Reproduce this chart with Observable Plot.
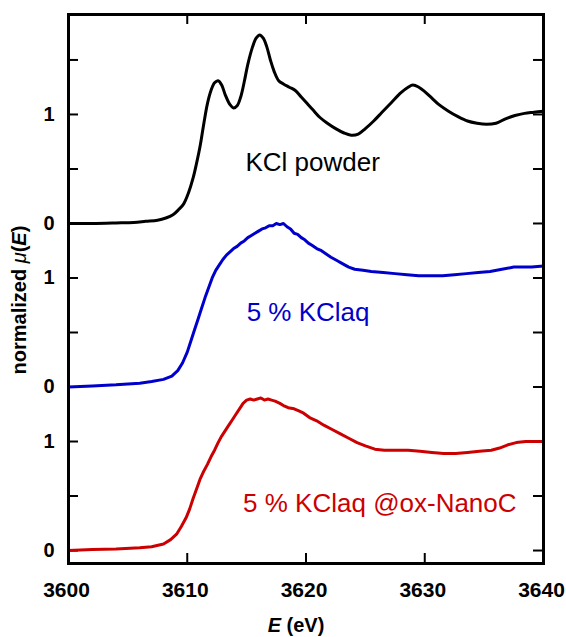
<!DOCTYPE html>
<html>
<head>
<meta charset="utf-8">
<script src="https://cdn.jsdelivr.net/npm/d3@7"></script>
<script src="https://cdn.jsdelivr.net/npm/@observablehq/plot@0.6"></script>
<style>
  html, body { margin: 0; padding: 0; background: #fff; }
</style>
</head>
<body>
<div id="chart"></div>
<script>
// ---------- data ----------
const seriesNames = ["KCl powder", "5 % KClaq", "5 % KClaq @ox-NanoC"];
const seriesColors = ["#000000", "#0000cc", "#cc0000"];
const seriesOffsets = [3.0, 1.5, 0.0];

const xTicks = [3600, 3610, 3620, 3630, 3640];
const yTickSteps = [0, 0.5, 1];
const yTickLabels = ["0", "1"];

const kclPowderE = [3600, 3602, 3604, 3605.5, 3606.5, 3607.5, 3608.2, 3608.8, 3609.3, 3609.7, 3610.1, 3610.5, 3610.8, 3611.1, 3611.4, 3611.7, 3612.0, 3612.3, 3612.6, 3612.9, 3613.2, 3613.6, 3613.9, 3614.2, 3614.5, 3614.8, 3615.1, 3615.5, 3615.8, 3616.1, 3616.4, 3616.7, 3617.0, 3617.3, 3617.7, 3618.1, 3618.6, 3619.1, 3619.6, 3620.1, 3620.6, 3621.2, 3621.8, 3622.5, 3623.2, 3623.8, 3624.4, 3625.0, 3625.7, 3626.4, 3627.2, 3628.0, 3628.6, 3629.0, 3629.5, 3630.0, 3630.6, 3631.2, 3632.0, 3632.8, 3633.6, 3634.4, 3635.2, 3636.0, 3636.8, 3637.6, 3638.4, 3639.2, 3640.0];
const kclPowderMu = [0.00, 0.00, 0.005, 0.01, 0.02, 0.03, 0.05, 0.08, 0.13, 0.18, 0.28, 0.42, 0.56, 0.72, 0.92, 1.10, 1.22, 1.29, 1.31, 1.27, 1.18, 1.09, 1.06, 1.08, 1.16, 1.30, 1.46, 1.62, 1.70, 1.73, 1.70, 1.62, 1.50, 1.40, 1.31, 1.28, 1.25, 1.22, 1.16, 1.10, 1.04, 0.97, 0.92, 0.87, 0.83, 0.81, 0.82, 0.87, 0.94, 1.02, 1.11, 1.20, 1.25, 1.27, 1.25, 1.21, 1.15, 1.09, 1.03, 0.98, 0.94, 0.92, 0.91, 0.92, 0.96, 0.99, 1.01, 1.02, 1.03];

const kclAqE = [3600, 3602, 3604, 3606, 3607, 3608, 3608.7, 3609.2, 3609.6, 3610.0, 3610.3, 3610.6, 3610.9, 3611.2, 3611.5, 3611.8, 3612.1, 3612.4, 3612.7, 3613.0, 3613.3, 3613.6, 3613.9, 3614.2, 3614.5, 3614.8, 3615.1, 3615.4, 3615.7, 3616.0, 3616.3, 3616.6, 3616.9, 3617.2, 3617.5, 3617.8, 3618.1, 3618.4, 3618.7, 3619.0, 3619.3, 3619.6, 3619.9, 3620.2, 3620.5, 3620.9, 3621.3, 3621.7, 3622.1, 3622.6, 3623.1, 3623.6, 3624.1, 3624.8, 3625.5, 3626.5, 3627.5, 3628.5, 3629.5, 3630.5, 3631.5, 3632.5, 3633.5, 3634.5, 3635.5, 3636.5, 3637.5, 3638.3, 3639.0, 3640.0];
const kclAqMu = [0.00, 0.01, 0.02, 0.035, 0.05, 0.07, 0.10, 0.15, 0.22, 0.32, 0.42, 0.52, 0.62, 0.72, 0.82, 0.91, 1.00, 1.07, 1.12, 1.17, 1.21, 1.24, 1.27, 1.29, 1.32, 1.34, 1.37, 1.39, 1.41, 1.43, 1.45, 1.46, 1.48, 1.48, 1.50, 1.49, 1.50, 1.47, 1.45, 1.41, 1.40, 1.37, 1.35, 1.32, 1.30, 1.27, 1.25, 1.22, 1.19, 1.16, 1.13, 1.10, 1.08, 1.07, 1.06, 1.05, 1.04, 1.03, 1.02, 1.02, 1.02, 1.03, 1.04, 1.05, 1.06, 1.08, 1.10, 1.10, 1.10, 1.11];

const kclNanoCE = [3600, 3602, 3604, 3606, 3607, 3608, 3608.6, 3609.1, 3609.5, 3609.9, 3610.2, 3610.5, 3610.8, 3611.1, 3611.4, 3611.7, 3612.0, 3612.3, 3612.6, 3612.9, 3613.2, 3613.5, 3613.8, 3614.1, 3614.4, 3614.7, 3615.0, 3615.3, 3615.6, 3615.9, 3616.2, 3616.5, 3616.8, 3617.1, 3617.4, 3617.8, 3618.1, 3618.5, 3619.0, 3619.4, 3619.8, 3620.3, 3620.9, 3621.5, 3622.2, 3622.9, 3623.6, 3624.3, 3625.0, 3625.8, 3626.6, 3627.6, 3628.6, 3629.6, 3630.6, 3631.6, 3632.6, 3633.6, 3634.6, 3635.6, 3636.3, 3637.0, 3637.7, 3638.5, 3639.3, 3640.0];
const kclNanoCMu = [0.00, 0.01, 0.015, 0.025, 0.035, 0.06, 0.10, 0.15, 0.22, 0.30, 0.38, 0.48, 0.57, 0.66, 0.73, 0.79, 0.86, 0.92, 0.99, 1.05, 1.10, 1.15, 1.20, 1.25, 1.30, 1.35, 1.38, 1.39, 1.38, 1.39, 1.40, 1.38, 1.39, 1.38, 1.37, 1.35, 1.33, 1.31, 1.30, 1.28, 1.26, 1.22, 1.19, 1.15, 1.11, 1.07, 1.03, 0.99, 0.96, 0.93, 0.92, 0.92, 0.92, 0.91, 0.90, 0.89, 0.89, 0.90, 0.91, 0.92, 0.94, 0.97, 0.99, 1.00, 1.00, 1.00];

// ---------- build rows ----------
const seriesE = [kclPowderE, kclAqE, kclNanoCE];
const seriesMu = [kclPowderMu, kclAqMu, kclNanoCMu];
const rows = seriesNames.map((name, i) =>
  seriesE[i].map((e, j) => ({series: name, E: e, y: seriesMu[i][j] + seriesOffsets[i]}))
);

const yTicksAll = seriesOffsets.flatMap((o, i) =>
  (i === 0 ? [...yTickSteps, 1.5] : yTickSteps).map(s => o + s));
const yTicksLabeled = seriesOffsets.flatMap(o => [o, o + 1]);
const yLabelFor = v => {
  for (const o of seriesOffsets) {
    if (Math.abs(v - o) < 1e-6) return yTickLabels[0];
    if (Math.abs(v - o - 1) < 1e-6) return yTickLabels[1];
  }
  return "";
};
const xInnerTicks = xTicks.slice(1, -1);

// ---------- layout ----------
const W = 566, H = 637;
const mL = 68, mR = 23, mT = 14, mB = 74;
const innerW = W - mL - mR, innerH = H - mT - mB;
const tickLen = 10;
const font = "'Liberation Sans', Arial, Helvetica, sans-serif";

const plot = Plot.plot({
  width: W,
  height: H,
  marginLeft: mL, marginRight: mR, marginTop: mT, marginBottom: mB,
  x: {domain: [3600, 3640]},
  y: {domain: [-0.119, 4.917]},
  style: {fontFamily: font, background: "white", color: "black"},
  marks: [
    // inward ticks
    Plot.ruleY(yTicksAll, {y: d => d, insetRight: innerW - tickLen, strokeWidth: 2}),
    Plot.ruleY(yTicksAll, {y: d => d, insetLeft: innerW - tickLen, strokeWidth: 2}),
    Plot.ruleX(xInnerTicks, {x: d => d, insetBottom: innerH - tickLen, strokeWidth: 2}),
    Plot.ruleX(xInnerTicks, {x: d => d, insetTop: innerH - tickLen, strokeWidth: 2}),
    // curves
    ...rows.map((r, i) => Plot.line(r, {
      x: "E", y: "y", stroke: seriesColors[i], strokeWidth: 3,
      strokeLinejoin: "round", strokeLinecap: "round",
      curve: i === 0 ? "catmull-rom" : "linear"
    })),
    // axes labels
    Plot.axisX(xTicks, {tickSize: 0, tickPadding: 19, label: null, dx: -2, tickFormat: d => String(d)}),
    Plot.axisY(yTicksLabeled, {tickSize: 0, tickPadding: 14, label: null, tickFormat: yLabelFor}),
    // annotations
    Plot.text([seriesNames[0]], {x: 3614.9, y: seriesOffsets[0] + 0.486, text: d => d, fill: seriesColors[0],
      fontSize: 26, textAnchor: "start", lineAnchor: "bottom"}),
    Plot.text([seriesNames[1]], {x: 3615.0, y: seriesOffsets[1] + 0.61, text: d => d, fill: seriesColors[1],
      fontSize: 26, textAnchor: "start", lineAnchor: "bottom"}),
    Plot.text([seriesNames[2]], {x: 3614.7, y: seriesOffsets[2] + 0.35, text: d => d, fill: seriesColors[2],
      fontSize: 26, textAnchor: "start", lineAnchor: "bottom"}),
    Plot.frame({stroke: "black", strokeWidth: 3})
  ]
});

document.getElementById("chart").appendChild(plot);

const svg = d3.select(plot);
// tick label fonts
svg.selectAll("g[aria-label='x-axis tick label']")
  .attr("font-size", 21).attr("font-weight", "bold").attr("font-family", font);
svg.selectAll("g[aria-label='x-axis tick label'] text")
  .attr("font-size", 21).attr("font-weight", "bold");
svg.selectAll("g[aria-label='y-axis tick label']")
  .attr("font-size", 20).attr("font-weight", "bold").attr("font-family", font);
svg.selectAll("g[aria-label='y-axis tick label'] text")
  .attr("font-size", 20).attr("font-weight", "bold");

// axis titles with italic parts
const yt = svg.append("text")
  .attr("transform", "translate(26,300) rotate(-90)")
  .attr("text-anchor", "middle")
  .attr("font-family", font)
  .attr("font-size", 20)
  .attr("font-weight", "bold")
  .attr("fill", "black");
yt.append("tspan").text("normalized ");
yt.append("tspan").attr("font-style", "italic").attr("font-weight", "normal").text("μ");
yt.append("tspan").text("(");
yt.append("tspan").attr("font-style", "italic").text("E");
yt.append("tspan").text(")");

const xt = svg.append("text")
  .attr("x", 296).attr("y", 632)
  .attr("text-anchor", "middle")
  .attr("font-family", font)
  .attr("font-size", 20)
  .attr("font-weight", "bold")
  .attr("fill", "black");
xt.append("tspan").attr("font-style", "italic").text("E");
xt.append("tspan").text(" (eV)");
</script>
</body>
</html>
